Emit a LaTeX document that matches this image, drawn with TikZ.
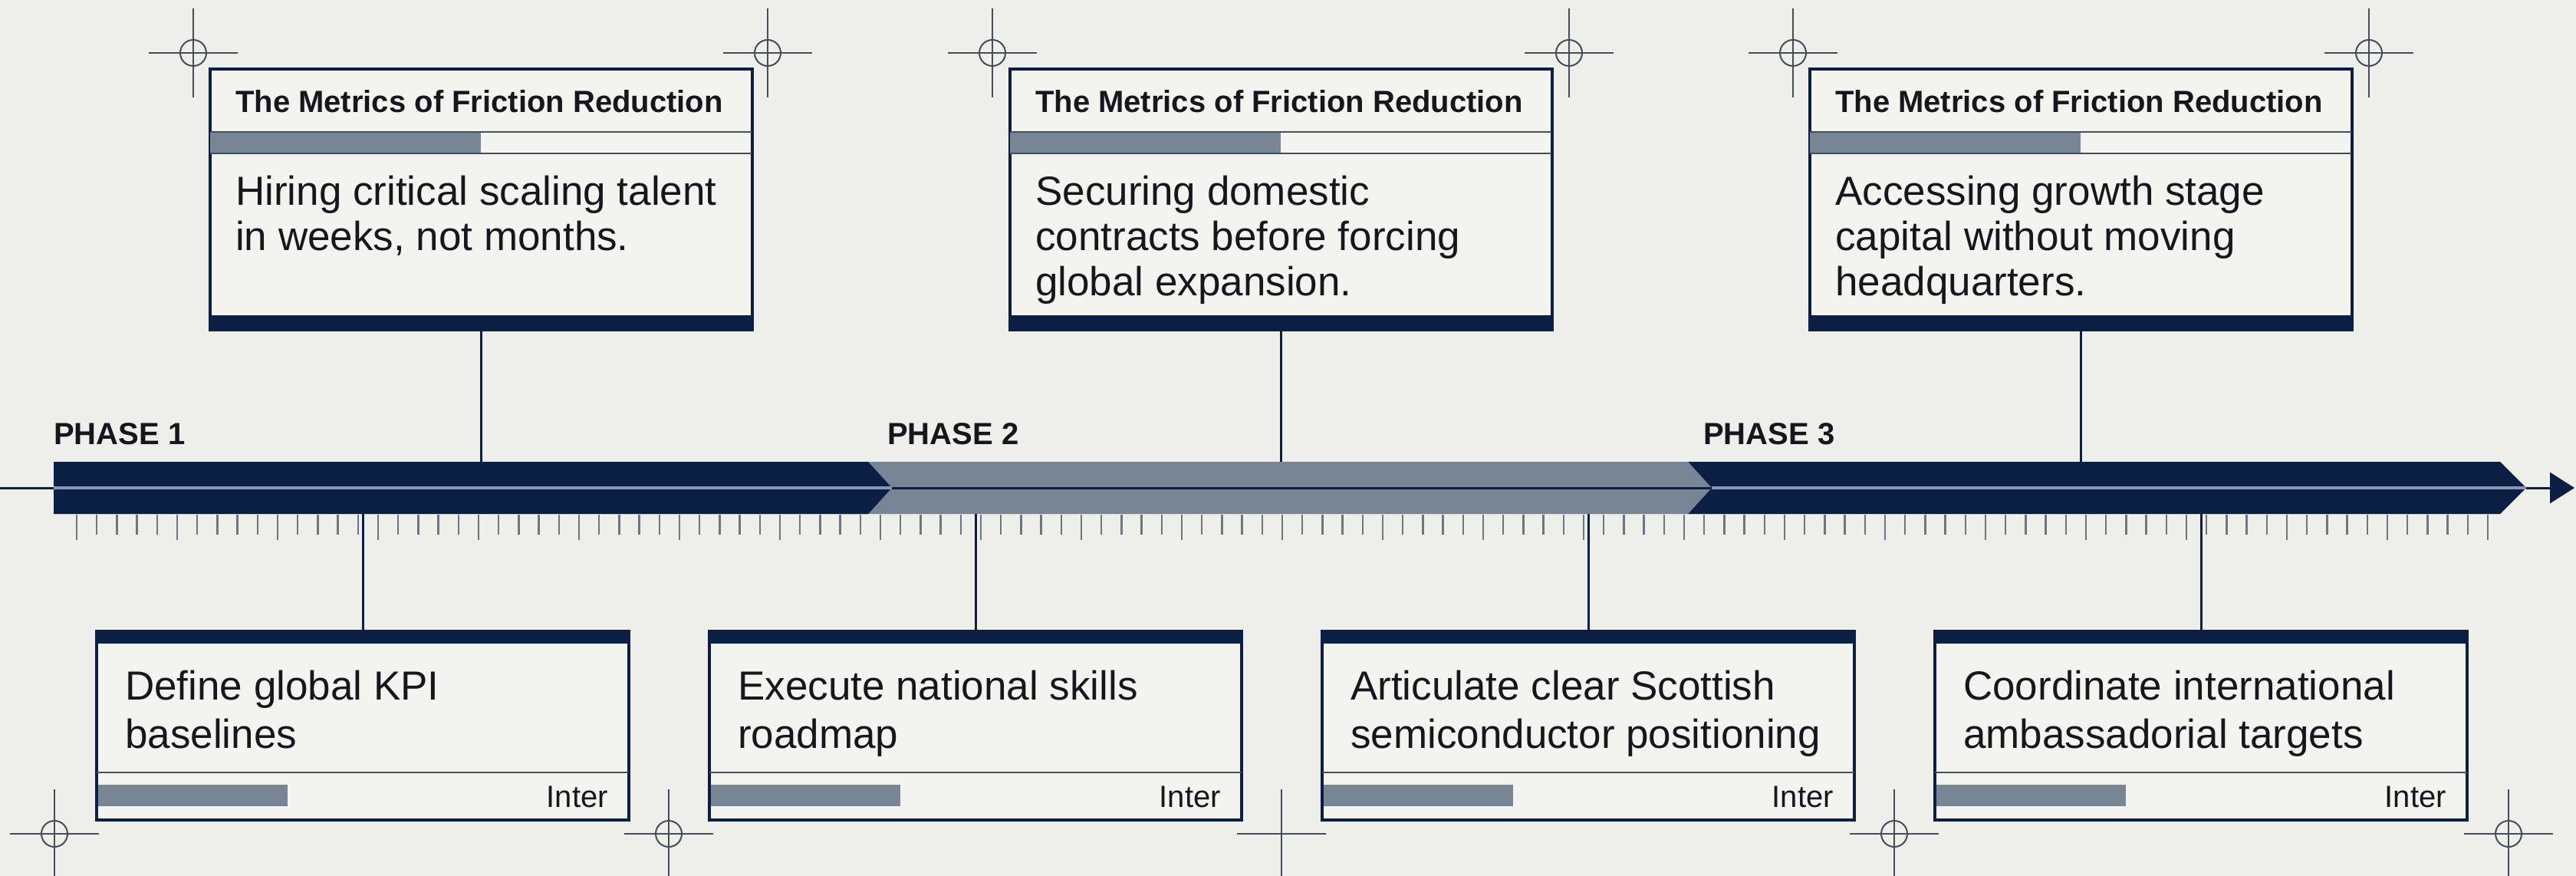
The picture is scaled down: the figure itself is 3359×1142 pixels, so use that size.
\documentclass[tikz,border=0pt]{standalone}
\usepackage{fontspec}
\setmainfont{Liberation Sans}
\usetikzlibrary{calc,arrows.meta}
\definecolor{bg}{HTML}{EEEFEA}
\definecolor{navy}{HTML}{0B1F44}
\definecolor{slate}{HTML}{788595}
\definecolor{boxfill}{HTML}{F3F4F0}
\definecolor{ink}{HTML}{15171C}
\definecolor{tickc}{HTML}{6E7581}
\definecolor{crossc}{HTML}{454D5B}
\definecolor{midlight}{HTML}{8797B2}
\tikzset{
  topbox/.style={draw=navy, line width=4pt, fill=boxfill, minimum width=707pt, minimum height=340pt, inner sep=0pt, anchor=north},
  botbox/.style={draw=navy, line width=4pt, fill=boxfill, minimum width=694pt, minimum height=246pt, inner sep=0pt, anchor=north},
  hdr/.style={font=\bfseries\fontsize{40}{48}\selectfont, text=ink, anchor=base west, inner sep=0pt},
  bodytxt/.style={font=\fontsize{53}{59}\selectfont, text=ink, anchor=base west, inner sep=0pt},
  phase/.style={font=\bfseries\fontsize{40}{48}\selectfont, text=ink, anchor=base west, inner sep=0pt},
  tag/.style={font=\fontsize{40}{48}\selectfont, text=ink, anchor=base east, inner sep=0pt},
  conn/.style={draw=navy, line width=3pt},
  thinline/.style={draw=crossc, line width=2pt},
  tickmark/.style={draw=tickc, line width=2.5pt},
  crossline/.style={draw=crossc, line width=2pt},
}
\newcommand{\crosshair}[3]{%
  \draw[crossline] (#1-58,#2) -- (#1+58,#2);
  \draw[crossline] (#1,#2-58) -- (#1,#2+58);
  \ifnum#3=1 \draw[crossline] (#1,#2) circle[radius=17pt];\fi
}
\begin{document}
\begin{tikzpicture}[x=1pt,y=-1pt]
\useasboundingbox (0,0) rectangle (3359,1142);
\fill[bg] (0,0) rectangle (3359,1142);

% crosshairs
\crosshair{252}{69}{1}
\crosshair{1001}{69}{1}
\crosshair{1294}{69}{1}
\crosshair{2046}{69}{1}
\crosshair{2338}{69}{1}
\crosshair{3089}{69}{1}
\crosshair{71}{1087}{1}
\crosshair{872}{1087}{1}
\crosshair{1671}{1087}{0}
\crosshair{2470}{1087}{1}
\crosshair{3271}{1087}{1}

% axis line with arrow
\coordinate (axL) at (0,636);
\coordinate (axR) at (3357,636);
\draw[navy, line width=3pt, -{Triangle[length=32pt,width=40pt]}] (axL) -- (axR);

% ticks
\foreach \i in {0,...,120}{
  \pgfmathsetmacro{\tx}{100+\i*26.2}
  \pgfmathtruncatemacro{\md}{mod(\i,5)}
  \ifnum\md=0
    \draw[tickmark] (\tx,671) -- (\tx,704);
  \else
    \draw[tickmark] (\tx,671) -- (\tx,697);
  \fi
}

% phase bars
\fill[navy] (2201,602) -- (3260,602) -- (3294,636) -- (3260,670) -- (2201,670) -- cycle;
\fill[slate] (1100,602) -- (2201,602) -- (2232,636) -- (2201,670) -- (1100,670) -- cycle;
\fill[navy] (70,602) -- (1132,602) -- (1163,636) -- (1132,670) -- (70,670) -- cycle;
\draw[midlight, line width=3.5pt] (70,636) -- (1163,636);
\draw[navy, line width=3pt] (1163,636) -- (2232,636);
\draw[midlight, line width=3.5pt] (2232,636) -- (3294,636);

\node[phase] (p1) at (70,579) {PHASE 1};
\node[phase] (p2) at (1157,579) {PHASE 2};
\node[phase] (p3) at (2221,579) {PHASE 3};

% top boxes
\foreach \n/\cx in {t1/627, t2/1670, t3/2713}{
  \node[topbox] (\n) at (\cx,88) {};
  \fill[slate] (\cx-353,172) rectangle (\cx,200);
  \draw[thinline] (\cx-353,172) -- (\cx+353,172);
  \draw[thinline] (\cx-353,200) -- (\cx+353,200);
  \fill[navy] (\cx-353,411) rectangle (\cx+353,428);
  \node[hdr] at (\cx-320,147) {The Metrics of Friction Reduction};
}
\node[bodytxt] (t1a) at (307,267) {Hiring critical scaling talent};
\node[bodytxt] (t1b) at (307,326) {in weeks, not months.};
\node[bodytxt] (t2a) at (1350,267) {Securing domestic};
\node[bodytxt] (t2b) at (1350,326) {contracts before forcing};
\node[bodytxt] (t2c) at (1350,385) {global expansion.};
\node[bodytxt] (t3a) at (2393,267) {Accessing growth stage};
\node[bodytxt] (t3b) at (2393,326) {capital without moving};
\node[bodytxt] (t3c) at (2393,385) {headquarters.};

% bottom boxes
\foreach \n/\cx in {m1/473, m2/1272, m3/2071, m4/2870}{
  \node[botbox] (\n) at (\cx,821) {};
  \fill[navy] (\cx-347,821) rectangle (\cx+347,839);
  \draw[thinline] (\cx-347,1007) -- (\cx+347,1007);
  \fill[slate] (\cx-345,1023) rectangle (\cx-98,1051);
  \node[tag] at (\cx+320,1052) {Inter};
}
\node[bodytxt] (m1a) at (163,912) {Define global KPI};
\node[bodytxt] (m1b) at (163,975) {baselines};
\node[bodytxt] (m2a) at (962,912) {Execute national skills};
\node[bodytxt] (m2b) at (962,975) {roadmap};
\node[bodytxt] (m3a) at (1761,912) {Articulate clear Scottish};
\node[bodytxt] (m3b) at (1761,975) {semiconductor positioning};
\node[bodytxt] (m4a) at (2560,912) {Coordinate international};
\node[bodytxt] (m4b) at (2560,975) {ambassadorial targets};

% connectors
\coordinate (b1) at (627,602);
\coordinate (b2) at (1670,602);
\coordinate (b3) at (2713,602);
\draw[conn] (t1.south) -- (b1);
\draw[conn] (t2.south) -- (b2);
\draw[conn] (t3.south) -- (b3);
\coordinate (c1) at (473,670);
\coordinate (c2) at (1272,670);
\coordinate (c3) at (2071,670);
\coordinate (c4) at (2870,670);
\draw[conn] (c1) -- (m1.north);
\draw[conn] (c2) -- (m2.north);
\draw[conn] (c3) -- (m3.north);
\draw[conn] (c4) -- (m4.north);
\end{tikzpicture}
\end{document}
